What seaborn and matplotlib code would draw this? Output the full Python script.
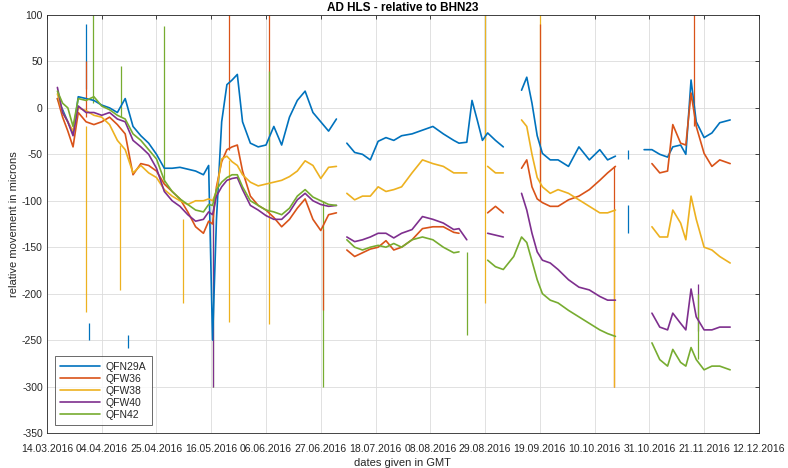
import numpy as np
import pandas as pd
import matplotlib
matplotlib.use("Agg")
import matplotlib.pyplot as plt
import matplotlib.dates as mdates
import seaborn as sns

# ── Data (days after 14.03.2016) ─────────────────────────────────────────────
START = pd.Timestamp("2016-03-14")
NAN = np.nan

days = [4, 6, 8, 10, 12, 15, 18, 21, 24, 27, 30, 33, 36, 39, 42, 45, 48, 51, 54, 57,
        60, 62, 63.5, 65, 67, 69, 71, 73, 75, 78, 81, 84, 87, 90, 93, 96, 99, 102, 105, 108,
        111, 113, 115, 118, 121, 124, 127, 130, 133, 136, 140, 144, 148, 152, 156, 158, 161, 163, 165, 167,
        169, 172, 175, 179, 182, 184, 186, 188, 190, 193, 196, 200, 204, 208, 212, 215, 218, 220, 229, 232,
        235, 238, 240, 243, 245, 247, 249, 252, 255, 258, 262]

qfn29a = [10, -2, -15, -28, 12, 10, 8, 3, 0, -5, 10, -20, -30, -38, -50, -65, -65, -64, -66, -68,
          -72, -62, -250, -120, -15, 25, 30, 36, -15, -38, -42, -40, -20, -40, -10, 8, 18, -5, -15, -25,
          -12, NAN, -38, -48, -50, -56, -36, -32, -35, -30, -28, -24, -20, -28, -35, -38, -37, 8, -13, -35,
          -27, -35, -42, NAN, 19, 33, 5, -30, -49, -56, -56, -63, -42, -56, -45, -56, -52, NAN, -45, -45,
          -50, -53, -42, -40, -50, 30, -15, -32, -27, -16, -13]

qfw36 = [10, -10, -25, -42, -5, -15, -18, -15, -10, -18, -28, -72, -60, -62, -68, -82, -90, -98, -112, -128,
         -135, -122, -125, -85, -58, -45, -42, -40, -68, -95, -105, -110, -118, -128, -120, -108, -98, -120, -132, -115,
         -113, NAN, -153, -160, -156, -152, -150, -143, -153, -150, -142, -130, -128, -128, -134, -135, NAN, NAN, NAN, NAN,
         -113, -106, -113, NAN, -65, -56, -85, -98, -102, -106, -106, -99, -95, -88, -78, -70, -63, NAN, NAN, -60,
         -70, -68, -18, -38, -40, 16, -20, -49, -63, -56, -60]

qfw38 = [15, -5, -15, -25, 0, -3, -8, -10, -18, -35, -45, -70, -62, -70, -75, -88, -95, -100, -104, -100,
         -100, -98, -100, -90, -55, -52, -58, -62, -72, -80, -84, -82, -80, -78, -74, -68, -57, -62, -76, -64,
         -63, NAN, -92, -99, -95, -95, -85, -90, -88, -85, -70, -56, -60, -63, -70, -70, -70, NAN, NAN, NAN,
         -63, -70, -70, NAN, -13, -20, -50, -75, -85, -92, -88, -92, -99, -106, -113, -113, -110, NAN, NAN, -128,
         -139, -139, -110, -124, -142, -95, -120, -150, -153, -160, -167]

qfw40 = [22, -5, -15, -30, 2, -5, -5, -8, -5, -12, -15, -35, -42, -50, -65, -90, -100, -106, -115, -122,
         -120, -112, -115, -95, -85, -78, -76, -75, -88, -105, -110, -116, -120, -120, -112, -99, -92, -100, -104, -106,
         -105, NAN, -139, -144, -142, -139, -135, -135, -140, -135, -131, -117, -120, -124, -131, -130, -142, NAN, NAN, NAN,
         -135, -137, -139, NAN, -92, -110, -135, -155, -164, -167, -174, -185, -193, -196, -203, -207, -207, NAN, NAN, -221,
         -236, -239, -221, -232, -239, -195, -225, -239, -239, -236, -236]

qfn42 = [18, 5, 0, -20, 10, 8, 12, 2, -2, -8, -12, -28, -35, -45, -55, -78, -90, -98, -104, -110,
         -112, -104, -105, -88, -80, -75, -72, -72, -85, -100, -105, -110, -112, -115, -108, -95, -88, -96, -100, -104,
         -105, NAN, -142, -150, -153, -150, -148, -150, -146, -150, -142, -139, -142, -150, -156, -155, NAN, NAN, NAN, NAN,
         -164, -171, -174, -160, -139, -145, -165, -185, -200, -207, -210, -218, -225, -232, -239, -243, -246, NAN, NAN, -253,
         -271, -278, -260, -274, -278, -258, -271, -282, -278, -278, -282]

sensors = ["QFN29A", "QFW36", "QFW38", "QFW40", "QFN42"]
series = [qfn29a, qfw36, qfw38, qfw40, qfn42]

# short outliers / vertical jumps: day, sensor, low, high
spike_day = [15, 15, 15, 16, 17.5, 28, 28.5, 31, 45, 52, 63.5, 63.5, 70, 70, 85, 85, 85,
             106, 106, 161, 168, 168, 189, 189, 217.5, 217.5, 223, 223, 248, 249.5, 249.5]
spike_sensor = ["QFN29A", "QFW36", "QFW38", "QFN29A", "QFN42", "QFW38", "QFN42", "QFN29A", "QFN42",
                "QFW38", "QFN42", "QFW40", "QFW36", "QFW38", "QFW36", "QFW38", "QFN42", "QFN42",
                "QFW36", "QFN42", "QFN29A", "QFW38", "QFW38", "QFW36", "QFW36", "QFW38", "QFN29A",
                "QFN29A", "QFW36", "QFW40", "QFN42"]
spike_lo = [20, -10, -220, -250, 5, -196, -10, -258, -80, -210, -300, -300, -45, -230, -110, -233, -110,
            -300, -218, -245, -35, -210, -80, -100, -300, -300, -135, -55, -20, -240, -270]
spike_hi = [90, 50, -20, -232, 100, -40, 45, -245, 88, -120, -105, -115, 100, -56, 100, -82, 40,
            -100, -130, -155, 100, 100, 100, 90, -63, -110, -105, -45, 100, -190, -200]

# ── Style ─────────────────────────────────────────────────────────────────────
sns.set_style("white")
plt.rcParams["font.family"] = ["Liberation Sans", "DejaVu Sans"]
plt.rcParams["axes.unicode_minus"] = False

COLORS = {
    "QFN29A": "#0072BD",
    "QFW36":  "#D95319",
    "QFW38":  "#EDB120",
    "QFW40":  "#7E2F8E",
    "QFN42":  "#77AC30",
}
DARK = "#262626"

# long table, one line segment per run of valid samples
rows = []
for name, vals in zip(sensors, series):
    seg = 0
    for d, v in zip(days, vals):
        if np.isnan(v):
            seg += 1
            continue
        rows.append({"date": START + pd.Timedelta(days=d), "value": v,
                     "sensor": name, "seg": f"{name}_{seg}"})
df = pd.DataFrame(rows)

fig = plt.figure(figsize=(7.88, 4.68), dpi=100)
ax = fig.add_axes([0.0596, 0.0748, 0.9034, 0.8932])

spike_dates = [START + pd.Timedelta(days=d) for d in spike_day]
ax.vlines(spike_dates, spike_lo, spike_hi, colors=[COLORS[s] for s in spike_sensor], lw=0.9, zorder=2)

sns.lineplot(data=df, x="date", y="value", hue="sensor", units="seg", estimator=None,
             hue_order=sensors, palette=COLORS, lw=1.2, sort=False, ax=ax, zorder=3)

ax.set_xlim(START, START + pd.Timedelta(days=273))
ax.set_ylim(-350, 100)
ax.set_yticks(np.arange(-350, 101, 50))
ticks = [START + pd.Timedelta(days=21 * i) for i in range(14)]
ax.set_xticks(ticks)
ax.xaxis.set_major_formatter(mdates.DateFormatter("%d.%m.%Y"))

ax.grid(True, color="#dcdcdc", lw=0.6)
ax.set_axisbelow(True)
for sp in ax.spines.values():
    sp.set_color(DARK)
    sp.set_linewidth(0.6)
ax.tick_params(direction="in", top=True, right=True, length=3, width=0.6,
               labelsize=7.5, colors=DARK, pad=3)
ax.tick_params(axis="x", pad=8)

ax.set_title("AD HLS - relative to BHN23", fontsize=8.5, fontweight="bold", pad=3, color="black")
ax.set_xlabel("dates given in GMT", fontsize=8, color=DARK, labelpad=3)
ax.set_ylabel("relative movement in microns", fontsize=8, color=DARK, labelpad=2)

handles, labels = ax.get_legend_handles_labels()
leg = ax.legend(handles, labels, loc="lower left", fontsize=7.5, frameon=True, fancybox=False,
                borderaxespad=0.75, handlelength=3.8, handletextpad=0.6, labelspacing=0.2,
                borderpad=0.5)
leg.get_frame().set_edgecolor(DARK)
leg.get_frame().set_linewidth(0.6)

fig.savefig("out.png", dpi=100)
